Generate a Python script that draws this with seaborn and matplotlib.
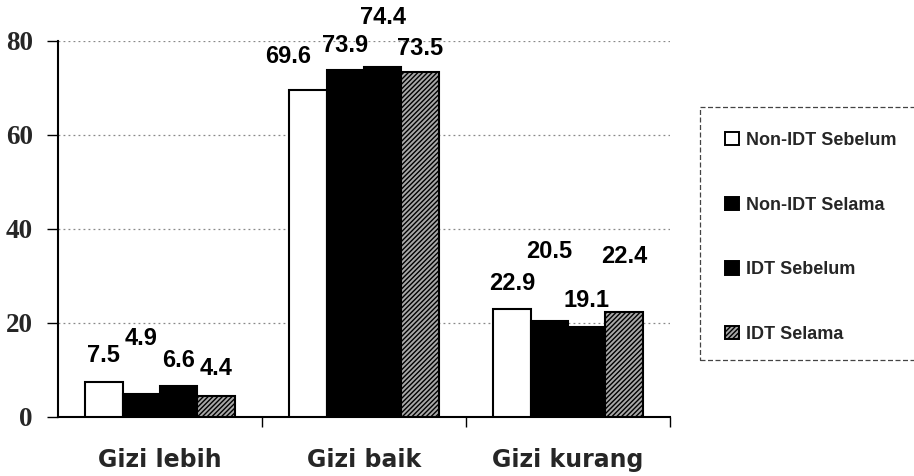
import numpy as np
import pandas as pd
import matplotlib
matplotlib.use("Agg")
import matplotlib.pyplot as plt
import seaborn as sns
from matplotlib.patches import Patch, Rectangle

# ---- data ----
categories = ["Gizi lebih", "Gizi baik", "Gizi kurang"]
series = ["Non-IDT Sebelum", "Non-IDT Selama", "IDT Sebelum", "IDT Selama"]
non_idt_sebelum = [7.5, 69.6, 22.9]
non_idt_selama = [4.9, 73.9, 20.5]
idt_sebelum = [6.6, 74.4, 19.1]
idt_selama = [4.4, 73.5, 22.4]
yticks = [0, 20, 40, 60, 80]

values = [non_idt_sebelum, non_idt_selama, idt_sebelum, idt_selama]
df = pd.DataFrame({
    "kategori": [c for _ in series for c in categories],
    "seri": [s for s in series for _ in categories],
    "nilai": [v for vals in values for v in vals],
})

# label offsets (pixels) per series, per category -- styling only
label_dy = [[20, 27, 19], [49, 18, 63], [19, 43, 20], [21, 17, 49]]
label_dx = [[0, -20, 0], [0, 0, 0], [0, 0, 0], [0, 0, 0]]

sns.set_theme(style="white")
plt.rcParams["hatch.linewidth"] = 1.0
plt.rcParams["font.family"] = ["Liberation Sans", "DejaVu Sans"]

W, H = 914, 476
fig = plt.figure(figsize=(W / 100, H / 100), dpi=100)
ax = fig.add_axes([58 / W, 59 / H, 612 / W, 376 / H])

sns.barplot(data=df, x="kategori", y="nilai", hue="seri", order=categories,
            hue_order=series, width=0.735, palette=["white", "black", "black", "#b0b0b0"],
            saturation=1, edgecolor="black", linewidth=1.5, ax=ax, legend=False,
            errorbar=None, zorder=3)

styles = [dict(fc="white", hatch=None), dict(fc="black", hatch=None),
          dict(fc="black", hatch=None), dict(fc="#a8a8a8", hatch="///////")]
for i, cont in enumerate(ax.containers):
    for j, bar in enumerate(cont):
        bar.set_facecolor(styles[i]["fc"])
        bar.set_edgecolor("black")
        if styles[i]["hatch"]:
            bar.set_hatch(styles[i]["hatch"])
        x = bar.get_x() + bar.get_width() / 2
        y = bar.get_height()
        ax.annotate(f"{y:.1f}", (x, y), xytext=(label_dx[i][j], label_dy[i][j]),
                    textcoords="offset pixels", ha="center", va="baseline",
                    fontsize=17, fontweight="bold", color="black", zorder=5)

ax.set_ylim(0, 80)
ax.set_xlim(-0.5, 2.5)
ax.set_yticks(yticks)
ax.set_yticklabels([str(t) for t in yticks], family=["Liberation Serif"],
                   fontweight="bold", fontsize=19.5)
ax.set_xticks(range(len(categories)))
ax.set_xticklabels(categories, fontsize=17, fontweight="bold",
                   family=["DejaVu Sans"])
ax.set_xlabel("")
ax.set_ylabel("")
ax.tick_params(axis="x", which="major", length=0, pad=22)
ax.set_xticks([0.5, 1.5, 2.5], minor=True)
ax.tick_params(axis="x", which="minor", length=7, width=1, direction="out",
               bottom=True, color="black")
ax.tick_params(axis="y", length=8, width=1, direction="out", left=True,
               color="black", pad=10)
ax.yaxis.grid(True, linestyle=(0, (1.5, 2.5)), color="#888888", linewidth=0.9)
ax.xaxis.grid(False)
ax.set_axisbelow(True)
for s in ["top", "right"]:
    ax.spines[s].set_visible(False)
for s in ["left", "bottom"]:
    ax.spines[s].set_color("black")
    ax.spines[s].set_linewidth(1.5)

# legend
handles = [Patch(facecolor=styles[i]["fc"], edgecolor="black",
                 hatch=styles[i]["hatch"], linewidth=1.4) for i in range(4)]
fig.patches.append(Rectangle((700 / W, 1 - 360 / H), 220 / W, 253 / H,
                             transform=fig.transFigure, fill=False,
                             edgecolor="#444444", linestyle=(0, (4, 2)),
                             linewidth=0.9))
leg = fig.legend(handles, series, loc="upper left",
                 bbox_to_anchor=(725 / W, 1 - 132 / H), frameon=False,
                 prop={"weight": "bold", "size": 13}, labelspacing=2.64,
                 handlelength=0.75, handleheight=0.75, handletextpad=0.4,
                 borderpad=0, borderaxespad=0)

fig.savefig("out.png", dpi=100, facecolor="white")
